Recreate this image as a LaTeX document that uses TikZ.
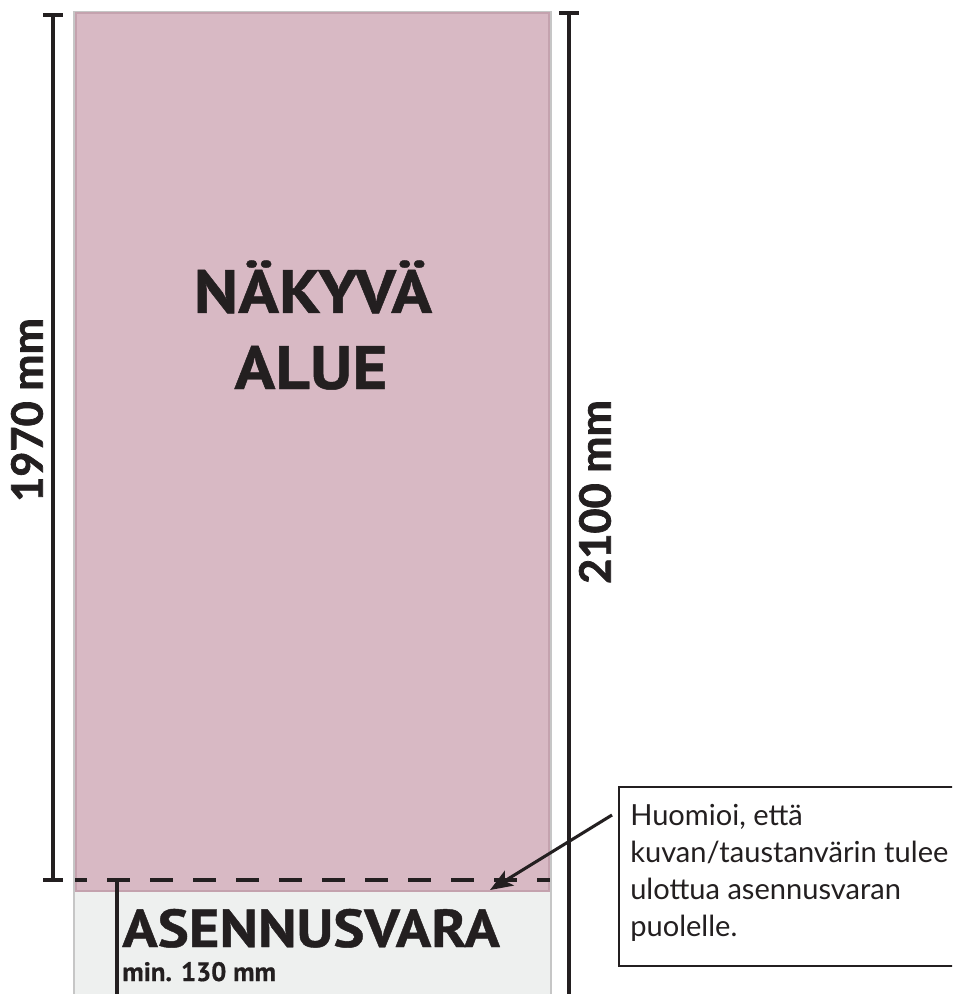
\documentclass[tikz,border=0pt]{standalone}
\usepackage{fontspec}
\setmainfont{Lato}
\newfontfamily\myr{PT Sans}[BoldFeatures={FakeBold=0.6}]
\newfontfamily\myrw{PT Sans}[FakeStretch=1.1,BoldFeatures={FakeBold=0.8}]
\newfontfamily\dimfont{Lato}[BoldFeatures={FakeBold=1.6}]
\usetikzlibrary{arrows.meta}
\definecolor{pinkfill}{HTML}{D8B9C4}
\definecolor{pinkedge}{HTML}{C4A2AE}
\definecolor{grayfill}{HTML}{EEF0EF}
\definecolor{grayedge}{HTML}{C6C6C6}
\definecolor{ink}{HTML}{231F20}
\begin{document}
\begin{tikzpicture}[x=0.75pt,y=-0.75pt,
  dimline/.style={ink,line width=2.6pt},
  bigbold/.style={ink,inner sep=0pt,font=\myrw\bfseries\fontsize{46}{46}\selectfont},
  dimlabel/.style={ink,rotate=90,font=\dimfont\bfseries\fontsize{32.5}{32.5}\selectfont},
  notetext/.style={ink,inner sep=0pt,align=left,font=\fontsize{21.8}{27.75}\selectfont}]
\clip (0,0) rectangle (952,994);
\fill[white] (0,0) rectangle (952,994);
% areas
\draw[grayedge,line width=1.5pt,fill=grayfill] (74,12) rectangle (551,1010);
\draw[pinkedge,line width=1pt,fill=pinkfill] (76,13) rectangle (549,891);
% dashed boundary
\coordinate (dashL) at (75,880);
\coordinate (dashR) at (550,880);
\draw[ink,line width=2.6pt,dash pattern=on 17.25pt off 15pt,dash phase=8.25pt] (dashL) -- (dashR);
% left dimension 1970
\coordinate (lt) at (53,15);
\coordinate (lb) at (53,880);
\draw[dimline] (lt) -- (lb);
\draw[dimline] ([xshift=-7.5pt]lt) -- ([xshift=7.5pt]lt);
\draw[dimline] ([xshift=-7.5pt]lb) -- ([xshift=7.5pt]lb);
% inner dimension 130
\coordinate (it) at (117,880);
\coordinate (ib) at (117,1010);
\draw[dimline] (it) -- (ib);
\draw[dimline] ([xshift=-7.5pt]it) -- ([xshift=7.5pt]it);
% right dimension 2100
\coordinate (rt) at (569,13);
\coordinate (rb) at (569,1010);
\draw[dimline] (rt) -- (rb);
\draw[dimline] ([xshift=-7.5pt]rt) -- ([xshift=7.5pt]rt);
% labels
\node[bigbold,anchor=base] (nak) at (313,313) {NÄKYVÄ};
\node[bigbold,anchor=base] (alue) at (311,389) {ALUE};
\node[dimlabel] (d1970) at (27,410) {1970 mm};
\node[dimlabel] (d2100) at (595,492) {2100 mm};
\node[ink,inner sep=0pt,anchor=base west,font=\myrw\bfseries\fontsize{40}{40}\selectfont] (asv) at (122,947) {ASENNUSVARA};
\node[ink,inner sep=0pt,anchor=base west,font=\myr\bfseries\fontsize{20}{20}\selectfont] (minv) at (122,981) {min. 130 mm};
% callout
\draw[ink,line width=2pt] (619,787) rectangle (1010,966);
\node[notetext,anchor=north west] (note) at (630,804) {Huomioi, että\\kuvan/taustanvärin tulee\\ulottua asennusvaran\\puolelle.};
\coordinate (arrS) at (612,815);
\coordinate (arrE) at (490,890);
\draw[ink,line width=2.3pt,-{Stealth[length=17pt,width=13pt,inset=4pt]}] (arrS) -- (arrE);
\end{tikzpicture}
\end{document}
